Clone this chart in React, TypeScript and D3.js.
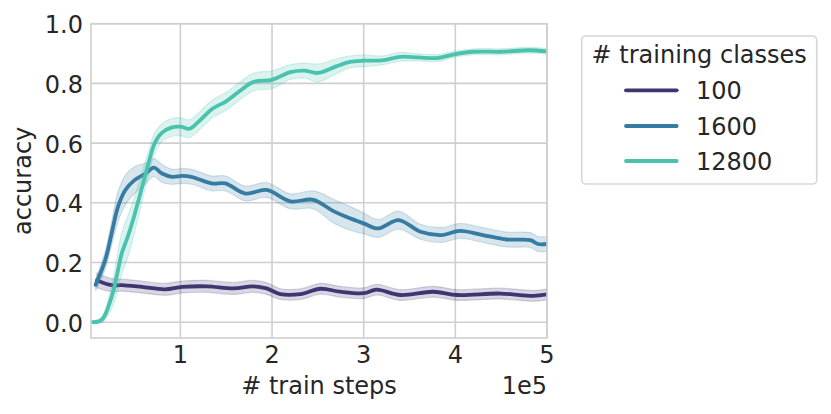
import * as d3 from 'd3';

// x values are in units of 1e5 train steps
const classLabels = ['100', '1600', '12800'];
const classColors = ['#3d3771', '#357ba2', '#4ac2ad'];

const steps100 = [0.09, 0.25, 0.36, 0.58, 0.83, 1.02, 1.29, 1.58, 1.79, 1.94, 2.09, 2.31, 2.53, 2.74, 3.0, 3.14, 3.4, 3.76, 4.02, 4.49, 4.85, 5.0];
const acc100 = [0.14, 0.124, 0.124, 0.118, 0.11, 0.118, 0.12, 0.113, 0.12, 0.113, 0.094, 0.094, 0.112, 0.102, 0.097, 0.109, 0.091, 0.102, 0.091, 0.096, 0.088, 0.093];
const spread100 = [0.025, 0.022, 0.02, 0.02, 0.02, 0.02, 0.02, 0.02, 0.02, 0.02, 0.018, 0.018, 0.018, 0.018, 0.018, 0.018, 0.018, 0.018, 0.018, 0.018, 0.018, 0.018];

const steps1600 = [0.075, 0.18, 0.25, 0.32, 0.4, 0.5, 0.62, 0.71, 0.8, 0.91, 1.02, 1.12, 1.34, 1.49, 1.71, 1.94, 2.2, 2.45, 2.67, 2.85, 3.0, 3.16, 3.38, 3.62, 3.85, 4.05, 4.3, 4.56, 4.82, 4.9, 5.0];
const acc1600 = [0.125, 0.208, 0.297, 0.387, 0.443, 0.476, 0.498, 0.518, 0.498, 0.487, 0.49, 0.487, 0.465, 0.465, 0.431, 0.443, 0.405, 0.41, 0.372, 0.348, 0.331, 0.314, 0.342, 0.303, 0.292, 0.306, 0.292, 0.277, 0.275, 0.262, 0.262];
const spread1600 = [0.02, 0.03, 0.04, 0.05, 0.05, 0.045, 0.035, 0.03, 0.03, 0.025, 0.025, 0.025, 0.025, 0.025, 0.025, 0.025, 0.025, 0.03, 0.04, 0.04, 0.035, 0.03, 0.03, 0.025, 0.025, 0.025, 0.025, 0.025, 0.025, 0.025, 0.025];

const steps12800 = [0.025, 0.14, 0.25, 0.31, 0.36, 0.43, 0.5, 0.58, 0.65, 0.72, 0.8, 0.9, 1.0, 1.1, 1.2, 1.35, 1.5, 1.65, 1.8, 2.0, 2.2, 2.35, 2.5, 2.7, 2.85, 3.0, 3.2, 3.4, 3.6, 3.8, 4.0, 4.2, 4.5, 4.8, 5.0];
const acc12800 = [0.0, 0.007, 0.085, 0.16, 0.23, 0.29, 0.36, 0.45, 0.53, 0.6, 0.635, 0.652, 0.655, 0.648, 0.672, 0.715, 0.74, 0.775, 0.805, 0.812, 0.838, 0.843, 0.835, 0.857, 0.872, 0.876, 0.877, 0.889, 0.887, 0.885, 0.898, 0.906, 0.906, 0.911, 0.907];
const spread12800 = [0.003, 0.01, 0.04, 0.06, 0.07, 0.07, 0.06, 0.05, 0.04, 0.035, 0.03, 0.03, 0.03, 0.03, 0.03, 0.03, 0.03, 0.03, 0.03, 0.03, 0.025, 0.025, 0.03, 0.025, 0.02, 0.02, 0.015, 0.015, 0.012, 0.012, 0.01, 0.01, 0.01, 0.01, 0.01];

const xTicks = [1, 2, 3, 4, 5];
const yTicks = [0, 0.2, 0.4, 0.6, 0.8, 1.0];

const allSteps = [steps100, steps1600, steps12800];
const allAcc = [acc100, acc1600, acc12800];
const allSpread = [spread100, spread1600, spread12800];

interface Pt {
    x: number;
    y: number;
    s: number;
}

export default function App() {
    const width = 831;
    const height = 414;
    const margins = { left: 91, right: 284, top: 23.7, bottom: 76 };
    const font = "'DejaVu Sans', sans-serif";
    const fontSize = 24;
    const gridColor = '#cfcfcf';
    const textColor = '#262626';

    const xScale = d3
        .scaleLinear()
        .domain([0.025, 5.0])
        .range([margins.left, width - margins.right]);
    const yScale = d3
        .scaleLinear()
        .domain([-0.053, 1.0])
        .range([height - margins.bottom, margins.top]);

    const line = d3
        .line<Pt>()
        .x((d) => xScale(d.x))
        .y((d) => yScale(d.y))
        .curve(d3.curveCatmullRom.alpha(0.5));
    const band = d3
        .area<Pt>()
        .x((d) => xScale(d.x))
        .y0((d) => yScale(d.y - d.s))
        .y1((d) => yScale(d.y + d.s))
        .curve(d3.curveCatmullRom.alpha(0.5));

    const series = classLabels.map((label, i) => ({
        label,
        color: classColors[i],
        points: allSteps[i].map((x, j) => ({ x, y: allAcc[i][j], s: allSpread[i][j] })),
    }));

    const [x0, x1] = xScale.range();
    const [y0, y1] = yScale.range();

    // legend
    const lg = { x: 581.7, y: 36, w: 235, h: 148 };
    const rowY = [90.3, 126, 161];

    return (
        <svg
            width={width}
            height={height}
            viewBox={`0 0 ${width} ${height}`}
            style={{ position: 'absolute', left: 0, top: 0, background: '#fff' }}
            fontFamily={font}
        >
            <defs>
                <clipPath id='plot-clip'>
                    <rect x={x0} y={y1} width={x1 - x0} height={y0 - y1} />
                </clipPath>
            </defs>
            <rect x={0} y={0} width={width} height={height} fill='#fff' />

            {/* grid */}
            {xTicks.map((t) => (
                <line key={'gx' + t} x1={xScale(t)} x2={xScale(t)} y1={y1} y2={y0} stroke={gridColor} strokeWidth={1.6} />
            ))}
            {yTicks.map((t) => (
                <line key={'gy' + t} x1={x0} x2={x1} y1={yScale(t)} y2={yScale(t)} stroke={gridColor} strokeWidth={1.6} />
            ))}

            <g clipPath='url(#plot-clip)'>
                {series.map((s) => (
                    <g key={s.label}>
                        <path
                            d={band(s.points) ?? ''}
                            fill={s.color}
                            fillOpacity={0.2}
                            stroke={s.color}
                            strokeOpacity={0.2}
                            strokeWidth={1.2}
                        />
                        <path
                            d={line(s.points) ?? ''}
                            fill='none'
                            stroke={s.color}
                            strokeWidth={3.8}
                            strokeLinecap='round'
                            strokeLinejoin='round'
                        />
                    </g>
                ))}
            </g>

            {/* spines */}
            <rect x={x0} y={y1} width={x1 - x0} height={y0 - y1} fill='none' stroke={gridColor} strokeWidth={1.6} />

            {/* tick labels */}
            {yTicks.map((t) => (
                <text
                    key={'ty' + t}
                    x={x0 - 8}
                    y={yScale(t) + 9.5}
                    textAnchor='end'
                    fontSize={fontSize}
                    fill={textColor}
                >
                    {t.toFixed(1)}
                </text>
            ))}
            {xTicks.map((t) => (
                <text key={'tx' + t} x={xScale(t)} y={363.3} textAnchor='middle' fontSize={fontSize} fill={textColor}>
                    {t}
                </text>
            ))}
            <text x={x1} y={394} textAnchor='end' fontSize={fontSize} fill={textColor}>
                1e5
            </text>

            {/* axis labels */}
            <text x={(x0 + x1) / 2} y={394} textAnchor='middle' fontSize={fontSize} fill={textColor}>
                # train steps
            </text>
            <text
                transform={`translate(31, ${(y0 + y1) / 2}) rotate(-90)`}
                textAnchor='middle'
                fontSize={fontSize}
                fill={textColor}
            >
                accuracy
            </text>

            {/* legend */}
            <rect x={lg.x} y={lg.y} width={lg.w} height={lg.h} rx={4} fill='#fff' stroke='#d6d6d6' strokeWidth={1.6} />
            <text x={lg.x + lg.w / 2} y={62.5} textAnchor='middle' fontSize={fontSize} fill={textColor}>
                # training classes
            </text>
            {series.map((s, i) => (
                <g key={'lg' + s.label}>
                    <line x1={626} x2={676.7} y1={rowY[i]} y2={rowY[i]} stroke={s.color} strokeWidth={3.8} strokeLinecap='round' />
                    <text x={696} y={rowY[i] + 8.5} fontSize={fontSize} fill={textColor}>
                        {s.label}
                    </text>
                </g>
            ))}
        </svg>
    );
}
